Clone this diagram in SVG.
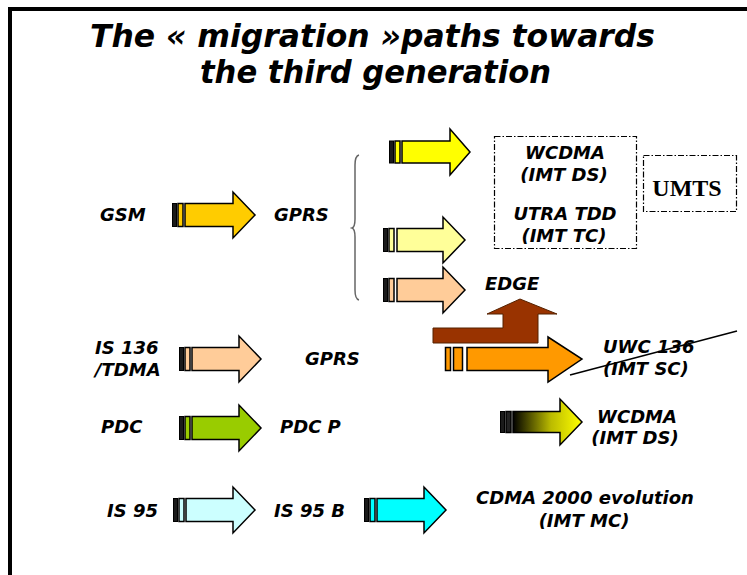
<svg xmlns="http://www.w3.org/2000/svg" width="747" height="575" viewBox="0 0 747 575">
<style>
.t{font-family:"DejaVu Sans",Verdana,sans-serif;font-weight:bold;font-style:italic;fill:#000}
.lbl{font-size:18px}
.title{font-size:32px}
.ar{stroke:#000;stroke-width:1.5;stroke-linejoin:miter}
.bar1{fill:#1a1a1a;stroke:#000;stroke-width:1}
.bar2{stroke:#000;stroke-width:1.5}
.box{fill:none;stroke:#000;stroke-width:1.2;stroke-dasharray:6 2 1.5 2}
</style>
<defs>
<linearGradient id="gk" x1="0" y1="0" x2="1" y2="0">
<stop offset="0" stop-color="#000000"/>
<stop offset="0.55" stop-color="#bbbb00"/>
<stop offset="1" stop-color="#ffff00"/>
</linearGradient>
</defs>
<rect width="747" height="575" fill="#fff"/>
<rect x="10" y="9" width="760" height="600" fill="none" stroke="#000" stroke-width="4"/>

<g id="title">
<text class="t title" x="90" y="47" textLength="565" lengthAdjust="spacingAndGlyphs">The « migration »paths towards</text>
<text class="t title" x="200" y="83" textLength="351" lengthAdjust="spacingAndGlyphs">the third generation</text>
</g>

<g id="connectors">
<!-- GSM -> GPRS -->
<g>
<rect class="bar1" x="172.5" y="203.5" width="4" height="23"/>
<rect class="bar2" x="178" y="203.5" width="5" height="23" fill="#FFCC00"/>
<path class="ar" fill="#FFCC00" d="M185,203.5 L233,203.5 L233,192 L255,215 L233,238 L233,226.5 L185,226.5 Z"/>
</g>
<!-- top branch arrows -->
<g>
<rect class="bar1" x="389.5" y="141" width="4" height="22"/>
<rect class="bar2" x="395" y="141" width="5" height="22" fill="#FFFF00"/>
<path class="ar" fill="#FFFF00" d="M402,141 L450,141 L450,129 L470,152 L450,175 L450,163 L402,163 Z"/>
</g>
<g>
<rect class="bar1" x="383.5" y="228.5" width="4" height="23"/>
<rect class="bar2" x="389" y="228.5" width="5" height="23" fill="#FFFF99"/>
<path class="ar" fill="#FFFF99" d="M397,228.5 L443,228.5 L443,217 L465,240 L443,263 L443,251.5 L397,251.5 Z"/>
</g>
<g>
<rect class="bar1" x="383.5" y="278.5" width="4" height="23"/>
<rect class="bar2" x="389" y="278.5" width="5" height="23" fill="#FFCC99"/>
<path class="ar" fill="#FFCC99" d="M397,278.5 L443,278.5 L443,267 L465,290 L443,313 L443,301.5 L397,301.5 Z"/>
</g>
<!-- brown L arrow -->
<path fill="#993300" stroke="#552200" stroke-width="1" d="M433,328 L503,328 L503,314 L487,314 L520,299 L557,314 L538,314 L538,343 L433,343 Z"/>
<!-- orange arrow -->
<g>
<rect class="bar2" x="445.5" y="347.5" width="5" height="23" fill="#FF9900"/>
<rect class="bar2" x="453.5" y="347.5" width="9" height="23" fill="#FF9900"/>
<path class="ar" fill="#FF9900" d="M467,347.5 L548,347.5 L548,337 L582,359 L548,382 L548,370.5 L467,370.5 Z"/>
</g>
<!-- IS136 -->
<g>
<rect class="bar1" x="179.5" y="347.5" width="4" height="23"/>
<rect class="bar2" x="185" y="347.5" width="5" height="23" fill="#FFCC99"/>
<path class="ar" fill="#FFCC99" d="M192,347.5 L239,347.5 L239,336 L261,359 L239,382 L239,370.5 L192,370.5 Z"/>
</g>
<!-- PDC -->
<g>
<rect class="bar1" x="179.5" y="416.5" width="4" height="23"/>
<rect class="bar2" x="185" y="416.5" width="5" height="23" fill="#99CC00"/>
<path class="ar" fill="#99CC00" d="M192,416.5 L239,416.5 L239,405 L261,428 L239,451 L239,439.5 L192,439.5 Z"/>
</g>
<!-- gradient arrow -->
<g>
<rect class="bar1" x="500.5" y="411.5" width="4" height="21"/>
<rect class="bar2" x="506" y="411.5" width="5" height="21" fill="#222"/>
<path class="ar" fill="url(#gk)" d="M513,411.5 L560,411.5 L560,399 L582,422 L560,445 L560,432.5 L513,432.5 Z"/>
</g>
<!-- IS95 -->
<g>
<rect class="bar1" x="173.5" y="498.5" width="4" height="23"/>
<rect class="bar2" x="179" y="498.5" width="5" height="23" fill="#CCFFFF"/>
<path class="ar" fill="#CCFFFF" d="M186,498.5 L233,498.5 L233,487 L255,510 L233,533 L233,521.5 L186,521.5 Z"/>
</g>
<!-- IS95B -->
<g>
<rect class="bar1" x="364.5" y="498.5" width="4" height="23"/>
<rect class="bar2" x="370" y="498.5" width="5" height="23" fill="#00FFFF"/>
<path class="ar" fill="#00FFFF" d="M377,498.5 L424,498.5 L424,487 L446,510 L424,533 L424,521.5 L377,521.5 Z"/>
</g>
<!-- brace -->
<path fill="none" stroke="#666" stroke-width="1.5" d="M359,155 Q355,156 355,165 L355,219 Q355,227 352,228 Q355,229 355,237 L355,290 Q355,299 359,300"/>
</g>

<g id="gsm"><text class="t lbl" x="100" y="221">GSM</text></g>
<g id="gprs1"><text class="t lbl" x="274" y="221">GPRS</text></g>
<g id="wcdma-utra">
<rect class="box" x="494.5" y="136.5" width="142" height="112"/>
<text class="t lbl" x="565" y="159" text-anchor="middle">WCDMA</text>
<text class="t lbl" x="564" y="181" text-anchor="middle">(IMT DS)</text>
<text class="t lbl" x="565" y="220" text-anchor="middle">UTRA TDD</text>
<text class="t lbl" x="564" y="242" text-anchor="middle">(IMT TC)</text>
</g>
<g id="umts">
<rect class="box" x="643.5" y="155.5" width="93" height="56"/>
<text x="687" y="196" text-anchor="middle" font-family="'Liberation Serif','Times New Roman',serif" font-weight="bold" font-size="24">UMTS</text>
</g>
<g id="edge"><text class="t lbl" x="485" y="290">EDGE</text></g>
<g id="is136">
<text class="t lbl" x="95" y="354">IS 136</text>
<text class="t lbl" x="95" y="376">/TDMA</text>
</g>
<g id="gprs2"><text class="t lbl" x="305" y="365">GPRS</text></g>
<g id="uwc136">
<text class="t lbl" x="603" y="353">UWC 136</text>
<text class="t lbl" x="603" y="375">(IMT SC)</text>
<line x1="570" y1="375" x2="737" y2="331" stroke="#000" stroke-width="1.5"/>
</g>
<g id="pdc"><text class="t lbl" x="101" y="433">PDC</text></g>
<g id="pdcp"><text class="t lbl" x="280" y="433">PDC P</text></g>
<g id="wcdma2">
<text class="t lbl" x="637" y="423" text-anchor="middle">WCDMA</text>
<text class="t lbl" x="635" y="444" text-anchor="middle">(IMT DS)</text>
</g>
<g id="is95"><text class="t lbl" x="107" y="517">IS 95</text></g>
<g id="is95b"><text class="t lbl" x="274" y="517">IS 95 B</text></g>
<g id="cdma2000">
<text class="t lbl" x="585" y="504" text-anchor="middle">CDMA 2000 evolution</text>
<text class="t lbl" x="584" y="527" text-anchor="middle">(IMT MC)</text>
</g>
</svg>
